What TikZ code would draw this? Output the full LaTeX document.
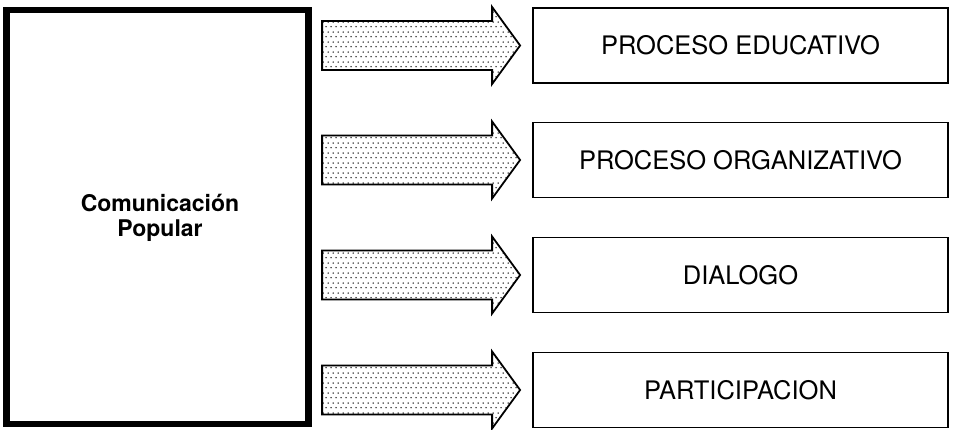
\documentclass[tikz,border=0pt]{standalone}
\usepackage{fontspec}
\setmainfont{TeX Gyre Heros}
\usetikzlibrary{patterns.meta}
\tikzdeclarepattern{
  name=stipple,
  type=uncolored,
  bounding box={(0pt,0pt) and (5pt,10pt)},
  tile size={(5pt,10pt)},
  code={
    \fill (1.25pt,2.5pt) circle (0.85pt);
    \fill (3.75pt,7.5pt) circle (0.85pt);
  }
}
\tikzset{
  bigbox/.style={draw, line width=6.5pt, minimum width=302pt, minimum height=414pt, inner sep=0pt},
  bigtext/.style={font=\bfseries\fontsize{23}{25}\selectfont, align=center, inner sep=0pt},
  outbox/.style={draw, line width=1.8pt, minimum width=415pt, minimum height=75pt, inner sep=0pt,
                 font=\fontsize{25.5}{30}\selectfont},
  blockarrow/.style={draw, line width=1.8pt, line join=miter, pattern={stipple}, pattern color=black}
}
\begin{document}
\begin{tikzpicture}[x=1pt, y=-1pt]
\useasboundingbox (0,0) rectangle (955,429);
\node[bigbox] (cp) at (157.5,217) {};
\node[bigtext] (cplbl) at (160,218) {Comunicación\\Popular};
\node[outbox] (b1) at (740.5,45.5) {PROCESO EDUCATIVO};
\node[outbox] (b2) at (740.5,160) {PROCESO ORGANIZATIVO};
\node[outbox] (b3) at (740.5,275) {DIALOGO};
\node[outbox] (b4) at (740.5,390) {PARTICIPACION};
\foreach \i in {1,...,4}{
  \draw[blockarrow]
    ([shift={(-210pt,24.5pt)}]b\i.west) --
    ([shift={(-40pt,24.5pt)}]b\i.west) --
    ([shift={(-40pt,38.5pt)}]b\i.west) --
    ([shift={(-12pt,0pt)}]b\i.west) --
    ([shift={(-40pt,-38.5pt)}]b\i.west) --
    ([shift={(-40pt,-24.5pt)}]b\i.west) --
    ([shift={(-210pt,-24.5pt)}]b\i.west) -- cycle;
}
\end{tikzpicture}
\end{document}
